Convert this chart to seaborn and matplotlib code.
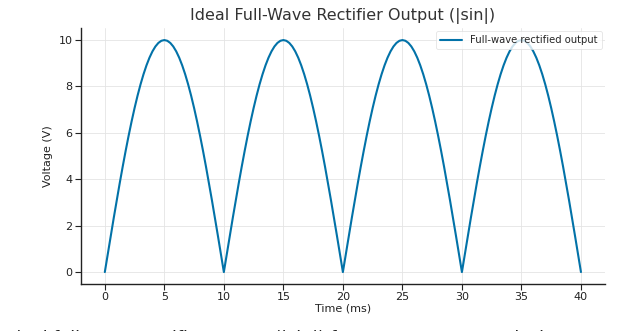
import matplotlib
matplotlib.use("Agg")
import matplotlib.pyplot as plt
import seaborn as sns
import pandas as pd

# Sample times (ms), every 0.25 ms over four half-cycles
time_ms = [i * 0.25 for i in range(161)]

# Rectified output voltage (V) at each sample time, one half-cycle per row
voltage_v = [
    0.000, 0.785, 1.564, 2.334, 3.090, 3.827, 4.540, 5.225, 5.878, 6.494,
    7.071, 7.604, 8.090, 8.526, 8.910, 9.239, 9.511, 9.724, 9.877, 9.969,
    10.000, 9.969, 9.877, 9.724, 9.511, 9.239, 8.910, 8.526, 8.090, 7.604,
    7.071, 6.494, 5.878, 5.225, 4.540, 3.827, 3.090, 2.334, 1.564, 0.785,
    0.000, 0.785, 1.564, 2.334, 3.090, 3.827, 4.540, 5.225, 5.878, 6.494,
    7.071, 7.604, 8.090, 8.526, 8.910, 9.239, 9.511, 9.724, 9.877, 9.969,
    10.000, 9.969, 9.877, 9.724, 9.511, 9.239, 8.910, 8.526, 8.090, 7.604,
    7.071, 6.494, 5.878, 5.225, 4.540, 3.827, 3.090, 2.334, 1.564, 0.785,
    0.000, 0.785, 1.564, 2.334, 3.090, 3.827, 4.540, 5.225, 5.878, 6.494,
    7.071, 7.604, 8.090, 8.526, 8.910, 9.239, 9.511, 9.724, 9.877, 9.969,
    10.000, 9.969, 9.877, 9.724, 9.511, 9.239, 8.910, 8.526, 8.090, 7.604,
    7.071, 6.494, 5.878, 5.225, 4.540, 3.827, 3.090, 2.334, 1.564, 0.785,
    0.000, 0.785, 1.564, 2.334, 3.090, 3.827, 4.540, 5.225, 5.878, 6.494,
    7.071, 7.604, 8.090, 8.526, 8.910, 9.239, 9.511, 9.724, 9.877, 9.969,
    10.000, 9.969, 9.877, 9.724, 9.511, 9.239, 8.910, 8.526, 8.090, 7.604,
    7.071, 6.494, 5.878, 5.225, 4.540, 3.827, 3.090, 2.334, 1.564, 0.785,
    0.000,
]

x_ticks = [0, 5, 10, 15, 20, 25, 30, 35, 40]
y_ticks = [0, 2, 4, 6, 8, 10]

df = pd.DataFrame({"Time (ms)": time_ms, "Voltage (V)": voltage_v})

sns.set_theme(style="whitegrid")
plt.rcParams["font.family"] = ["DejaVu Sans"]

fig = plt.figure(figsize=(6.28, 3.31), dpi=100)
ax = fig.add_axes([0.129, 0.143, 0.834, 0.771])

sns.lineplot(data=df, x="Time (ms)", y="Voltage (V)", ax=ax,
             color="#0272a8", linewidth=1.5,
             label="Full-wave rectified output")

ax.set_xticks(x_ticks)
ax.set_yticks(y_ticks)
ax.set_xlim(-2, 42)
ax.set_ylim(-0.5, 10.5)

ax.set_title("Ideal Full-Wave Rectifier Output (|sin|)", fontsize=11.5,
             color="#333333", pad=6)
ax.set_xlabel("Time (ms)", fontsize=8, color="#222222", labelpad=1)
ax.set_ylabel("Voltage (V)", fontsize=8, color="#222222", labelpad=4)

ax.tick_params(axis="both", which="major", labelsize=8, colors="#222222",
               length=4, width=0.8, direction="out", pad=2,
               bottom=True, left=True)
ax.grid(True, color="#e4e4e4", linewidth=0.6)
for side in ("top", "right"):
    ax.spines[side].set_visible(False)
for side in ("left", "bottom"):
    ax.spines[side].set_visible(True)
    ax.spines[side].set_color("#222222")
    ax.spines[side].set_linewidth(1.0)

leg = ax.legend(loc="upper right", fontsize=7.2, frameon=True,
                borderaxespad=0.3, handlelength=2.2)
leg.get_frame().set_edgecolor("#dddddd")
leg.get_frame().set_linewidth(0.6)

# Caption line running off the lower edge of the figure
fig.text(0.008, 0.002,
         "Ideal full-wave rectifier output (|sin|) for a 50 Hz, 10 V peak sine",
         fontsize=12.5, color="#222222", ha="left", va="top")

fig.savefig("out.png", dpi=100, facecolor="white")
